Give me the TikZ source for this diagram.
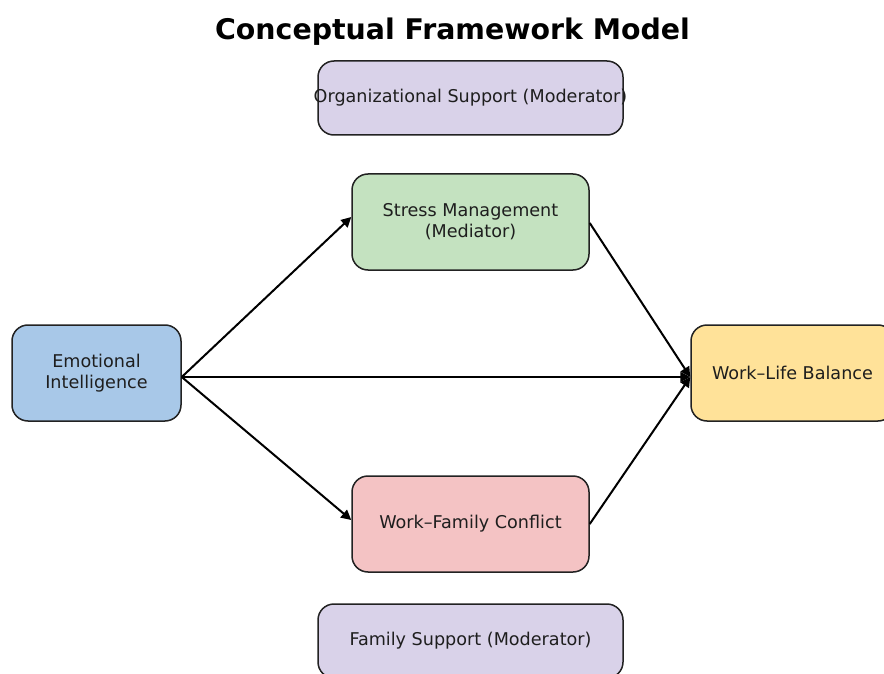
\documentclass[tikz,border=0pt]{standalone}
\usepackage{fontspec}
\setmainfont{DejaVu Sans}
\usetikzlibrary{arrows.meta}

\definecolor{lavender}{RGB}{217,210,233}
\definecolor{sagegreen}{RGB}{196,226,192}
\definecolor{skyblue}{RGB}{168,200,232}
\definecolor{rosepink}{RGB}{244,195,196}
\definecolor{butter}{RGB}{255,226,153}
\definecolor{edgegray}{RGB}{34,34,34}
\definecolor{inkgray}{RGB}{30,30,30}

\tikzset{
  box/.style={draw=edgegray, line width=1.5pt, rounded corners=16pt,
    align=center, text=inkgray, inner sep=0pt,
    font=\fontsize{17.6}{21.1}\selectfont},
  link/.style={draw=black, line width=2pt,
    -{Triangle[length=10pt,width=10pt]}},
}

\begin{document}
\begin{tikzpicture}[x=1pt, y=-1pt]
  \useasboundingbox (0,0) rectangle (884,674);
  \fill[white] (0,0) rectangle (884,674);
  \clip (0,0) rectangle (884,674);

  % title
  \node[anchor=base, font=\fontsize{28.4}{34}\selectfont\bfseries] (title)
    at (452.5,40) {Conceptual Framework Model};

  % constructs (the moderator labels are allowed to run past their boxes)
  \node[box, fill=lavender, minimum width=305pt, minimum height=74pt] (org)
    at (470.5,98) {\makebox[0pt]{Organizational Support (Moderator)}};
  \node[box, fill=sagegreen, minimum width=237pt, minimum height=96pt] (sm)
    at (470.5,222) {Stress Management\\(Mediator)};
  \node[box, fill=skyblue, minimum width=169pt, minimum height=96pt] (ei)
    at (96.5,373) {Emotional\\Intelligence};
  \node[box, fill=butter, minimum width=203pt, minimum height=96pt] (wlb)
    at (792.5,373) {Work–Life Balance};
  \node[box, fill=rosepink, minimum width=237pt, minimum height=96pt] (wfc)
    at (470.5,524) {Work–Family Conflict};
  \node[box, fill=lavender, minimum width=305pt, minimum height=74pt] (fs)
    at (470.5,641) {\makebox[0pt]{Family Support (Moderator)}};

  % paths
  \draw[link] ([yshift=-4pt]ei.east) -- ([yshift=5pt]sm.west);
  \draw[link] ([yshift=-4pt]ei.east) -- ([yshift=4pt]wfc.west);
  \draw[link] ([yshift=-4pt]ei.east) -- ([yshift=-4pt]wlb.west);
  \draw[link] ([yshift=-1pt]sm.east) -- ([yshift=-4pt]wlb.west);
  \draw[link] (wfc.east) -- ([yshift=-4pt]wlb.west);
\end{tikzpicture}
\end{document}
